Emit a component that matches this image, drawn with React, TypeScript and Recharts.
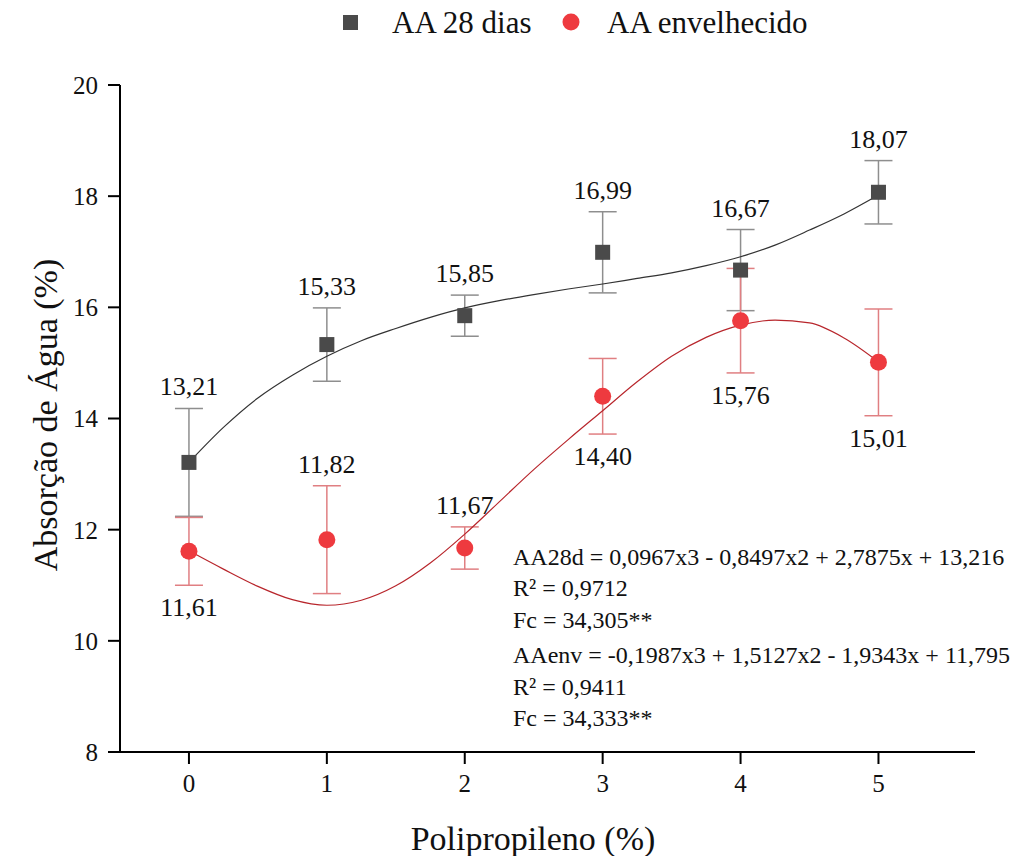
import { ComposedChart, Scatter, Line, XAxis, YAxis, ErrorBar } from "recharts"

// polipropileno content (%)
const teores = [0, 1, 2, 3, 4, 5]

// water absorption, 28 days
const aa28 = [13.21, 15.33, 15.85, 16.99, 16.67, 18.07]
const erro28 = [0.97, 0.66, 0.37, 0.73, 0.73, 0.57]

// water absorption, aged
const aaEnv = [11.61, 11.82, 11.67, 14.4, 15.76, 15.01]
const erroEnv = [0.61, 0.97, 0.38, 0.68, 0.94, 0.96]
// label side for the aged series
const ladoEnv = ["below", "above", "above", "below", "below", "below"]

// fitted curves, sampled every 0.25 along x
const xFit = [0, 0.25, 0.5, 0.75, 1, 1.25, 1.5, 1.75, 2, 2.25, 2.5, 2.75, 3, 3.25, 3.5, 3.75, 4, 4.25, 4.5, 4.75, 5]
const fit28 = [13.21, 13.84, 14.37, 14.78, 15.12, 15.4, 15.62, 15.82, 15.99, 16.12, 16.23, 16.33, 16.42, 16.52, 16.62, 16.75, 16.91, 17.12, 17.39, 17.68, 18.02]
const fitEnv = [11.62, 11.29, 10.98, 10.74, 10.64, 10.73, 10.99, 11.4, 11.92, 12.5, 13.08, 13.62, 14.14, 14.66, 15.12, 15.46, 15.68, 15.77, 15.72, 15.45, 15.02]

const yTicks = [8, 10, 12, 14, 16, 18, 20]

const equacoes = [
  "AA28d = 0,0967x3 - 0,8497x2 + 2,7875x + 13,216",
  "R² = 0,9712",
  "Fc = 34,305**",
  "AAenv = -0,1987x3 + 1,5127x2 - 1,9343x + 11,795",
  "R² = 0,9411",
  "Fc = 34,333**",
]

const FONT = "'Liberation Serif', 'Times New Roman', serif"
const GRAY = "#4a4a4a"
const RED = "#ee3a3f"

const W = 1033
const H = 856
const TOP = 85
const PLOT_H = 667
const PX_PER_UNIT = PLOT_H / (20 - 8)

const fmt = (v: number) => v.toFixed(2).replace(".", ",")

const dados28 = teores.map((x, i) => ({ x, y: aa28[i], err: erro28[i], side: "above" }))
const dadosEnv = teores.map((x, i) => ({ x, y: aaEnv[i], err: erroEnv[i], side: ladoEnv[i] }))
const curva28 = xFit.map((x, i) => ({ x, fit: fit28[i] }))
const curvaEnv = xFit.map((x, i) => ({ x, fit: fitEnv[i] }))

// value text sits just past the end of the error bar
function valueLabel(cx: number, cy: number, p: any) {
  const off = p.err * PX_PER_UNIT + 22
  const y = p.side === "above" ? cy - off : cy + off
  return (
    <text x={cx} y={y + 9} textAnchor="middle" fontSize={26} fill="#111" style={{ fontFamily: FONT }}>
      {fmt(p.y)}
    </text>
  )
}

const SquareShape = (props: any) => {
  const { cx, cy, payload } = props
  return (
    <g>
      <rect x={cx - 7.5} y={cy - 7.5} width={15} height={15} fill={GRAY} />
      {valueLabel(cx, cy, payload)}
    </g>
  )
}

const CircleShape = (props: any) => {
  const { cx, cy, payload } = props
  return (
    <g>
      <circle cx={cx} cy={cy} r={8.5} fill={RED} />
      {valueLabel(cx, cy, payload)}
    </g>
  )
}

const tickStyle = { fontSize: 25, fill: "#111", style: { fontFamily: FONT } }

export default function App() {
  return (
    <div style={{ position: "absolute", left: 0, top: 0, width: W, height: H, background: "#fff", fontFamily: FONT }}>
      <ComposedChart width={W} height={H} margin={{ top: TOP, right: 58, bottom: 0, left: 0 }}>
        <XAxis
          type="number"
          dataKey="x"
          domain={[-0.5, 5.7]}
          ticks={teores}
          allowDataOverflow
          height={104}
          tickSize={12}
          tickMargin={10}
          axisLine={{ stroke: "#000", strokeWidth: 2 }}
          tickLine={{ stroke: "#000", strokeWidth: 2 }}
          tick={tickStyle}
        />
        <YAxis
          type="number"
          domain={[8, 20]}
          ticks={yTicks}
          allowDataOverflow
          width={120}
          tickSize={12}
          tickMargin={10}
          axisLine={{ stroke: "#000", strokeWidth: 2 }}
          tickLine={{ stroke: "#000", strokeWidth: 2 }}
          tick={tickStyle}
        />
        <Scatter name="AA 28 dias" data={dados28} dataKey="y" shape={SquareShape} isAnimationActive={false}>
          <ErrorBar dataKey="err" direction="y" width={14} stroke="#8e8e8e" strokeWidth={1.5} />
        </Scatter>
        <Scatter name="AA envelhecido" data={dadosEnv} dataKey="y" shape={CircleShape} isAnimationActive={false}>
          <ErrorBar dataKey="err" direction="y" width={14} stroke="#e07f82" strokeWidth={1.5} />
        </Scatter>
        <Line data={curva28} dataKey="fit" type="monotone" stroke="#333" strokeWidth={1.2} dot={false} isAnimationActive={false} />
        <Line data={curvaEnv} dataKey="fit" type="monotone" stroke="#b8262c" strokeWidth={1.2} dot={false} isAnimationActive={false} />
      </ComposedChart>
      <svg width={W} height={H} style={{ position: "absolute", left: 0, top: 0, pointerEvents: "none", fontFamily: FONT }}>
        <rect x={343} y={15} width={15} height={15} fill={GRAY} />
        <text x={392} y={33} fontSize={31} fill="#111">AA 28 dias</text>
        <circle cx={571} cy={22} r={8.5} fill={RED} />
        <text x={607} y={33} fontSize={31} fill="#111">AA envelhecido</text>
        {equacoes.map((t, i) => (
          <text key={t} x={513} y={[565, 596, 628, 663, 695, 726][i]} fontSize={24} fill="#111">
            {t}
          </text>
        ))}
        <text x={533} y={850} textAnchor="middle" fontSize={34} fill="#111">
          Polipropileno (%)
        </text>
        <text transform="translate(57, 415) rotate(-90)" textAnchor="middle" fontSize={34} fill="#111">
          Absorção de Água (%)
        </text>
      </svg>
    </div>
  )
}
